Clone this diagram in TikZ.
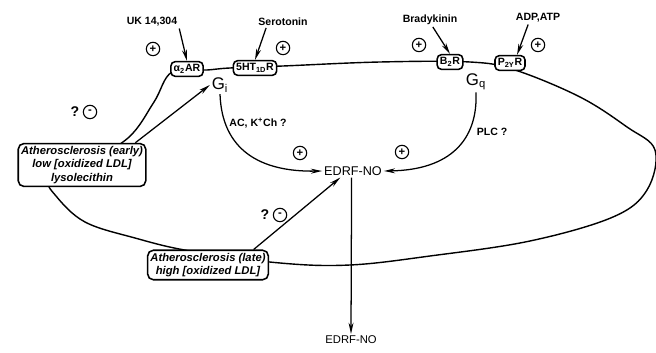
\documentclass[tikz,border=0pt]{standalone}
\usepackage{fontspec}
\setmainfont{Liberation Sans}
\usetikzlibrary{arrows.meta}

\tikzset{
  rec/.style={draw,fill=white,rounded corners=3pt,line width=1.1pt,inner sep=2pt,
    font=\fontsize{7.5}{8}\selectfont\bfseries},
  drug/.style={inner sep=1pt,font=\fontsize{7.5}{8}\selectfont\bfseries},
  sign/.style={circle,draw,line width=0.8pt,inner sep=0pt,minimum size=9.5pt,
    font=\fontsize{8}{8}\selectfont\bfseries},
  athero/.style={draw,fill=white,rounded corners=4pt,line width=1.1pt,align=center,
    inner sep=2pt,font=\fontsize{8}{9.5}\selectfont\bfseries\itshape},
  gprot/.style={inner sep=1pt,font=\fontsize{12}{12}\selectfont},
}

\begin{document}
\begin{tikzpicture}[x=0.025cm,y=-0.025cm,>={Stealth[length=8pt,width=3.5pt]},line width=0.9pt]
\useasboundingbox (0,0) rectangle (656,353);

% membrane
\draw[line width=1pt] plot[smooth cycle,tension=0.6] coordinates {
  (172,72) (154,102) (128,138) (82,165) (50,180) (56,196) (85,222) (135,238)
  (190,251) (280,263) (350,265) (430,256) (530,241) (613,217) (647,190)
  (655,150) (627,127) (580,97) (515,70) (470,62) (380,62) (283,66) (230,68) (207,70)};

% receptors
\node[rec] (a2ar) at (187,69) {α\textsubscript{2}AR};
\node[rec] (ht1d) at (255,68) {5HT\textsubscript{1D}R};
\node[rec] (b2r) at (450,62) {B\textsubscript{2}R};
\node[rec] (p2yr) at (510,63) {P\textsubscript{2Y}R};

% agonists
\node[drug] (uk) at (152,22) {UK 14,304};
\node[drug] (serotonin) at (283,22) {Serotonin};
\node[drug] (bradykinin) at (430,20) {Bradykinin};
\node[drug] (adp) at (538,18) {ADP,ATP};

\draw[->] (uk.south east) -- (a2ar.north);
\draw[->] ([xshift=-12pt]serotonin.south) -- (ht1d.north);
\draw[->] ([xshift=2pt]bradykinin.south) -- (b2r.north);
\draw[->] ([xshift=-7pt]adp.south) -- ([xshift=5pt]p2yr.north);

\node[sign] (p1) at (153,49) {+};
\node[sign] (p2) at (283,48) {+};
\node[sign] (p3) at (419,45) {+};
\node[sign] (p4) at (538,45) {+};

% G proteins
\node[gprot] (gi) at (220,85) {G\textsubscript{i}};
\node[gprot] (gq) at (476,82) {G\textsubscript{q}};

% EDRF
\node[inner sep=1pt,font=\fontsize{9}{9}\selectfont] (edrf) at (353,171) {EDRF-NO};
\node[inner sep=1pt,font=\fontsize{8}{8}\selectfont] (edrfout) at (351,340) {EDRF-NO};

\draw[->] (gi.south) .. controls (222,150) and (260,172) .. (edrf.west);
\draw[->] (gq.south) .. controls (478,140) and (450,170) .. (edrf.east);
\node[drug] (ac) at (258,123) {AC, K\textsuperscript{+}Ch ?};
\node[drug] (plc) at (492,132) {PLC ?};
\node[sign] (p5) at (300,153) {+};
\node[sign] (p6) at (402,152) {+};

\draw[->] ([xshift=-1pt]edrf.south) -- (edrfout.north);

% atherosclerosis
\node[athero] (early) at (82,165) {Atherosclerosis (early)\\low [oxidized LDL]\\lysolecithin};
\node[athero] (late) at (208,265) {Atherosclerosis (late)\\high [oxidized LDL]};

\draw[->] ([xshift=-8pt]early.north east) -- (gi.west);
\draw[->] ([xshift=-11pt]late.north east) -- ([xshift=-9pt]edrf.south);

\node[font=\fontsize{10}{10}\selectfont\bfseries] (q1) at (75,112) {?};
\node[sign] (m1) at (90,112) {-};
\node[font=\fontsize{10}{10}\selectfont\bfseries] (q2) at (265,215) {?};
\node[sign] (m2) at (280,215) {-};
\end{tikzpicture}
\end{document}
